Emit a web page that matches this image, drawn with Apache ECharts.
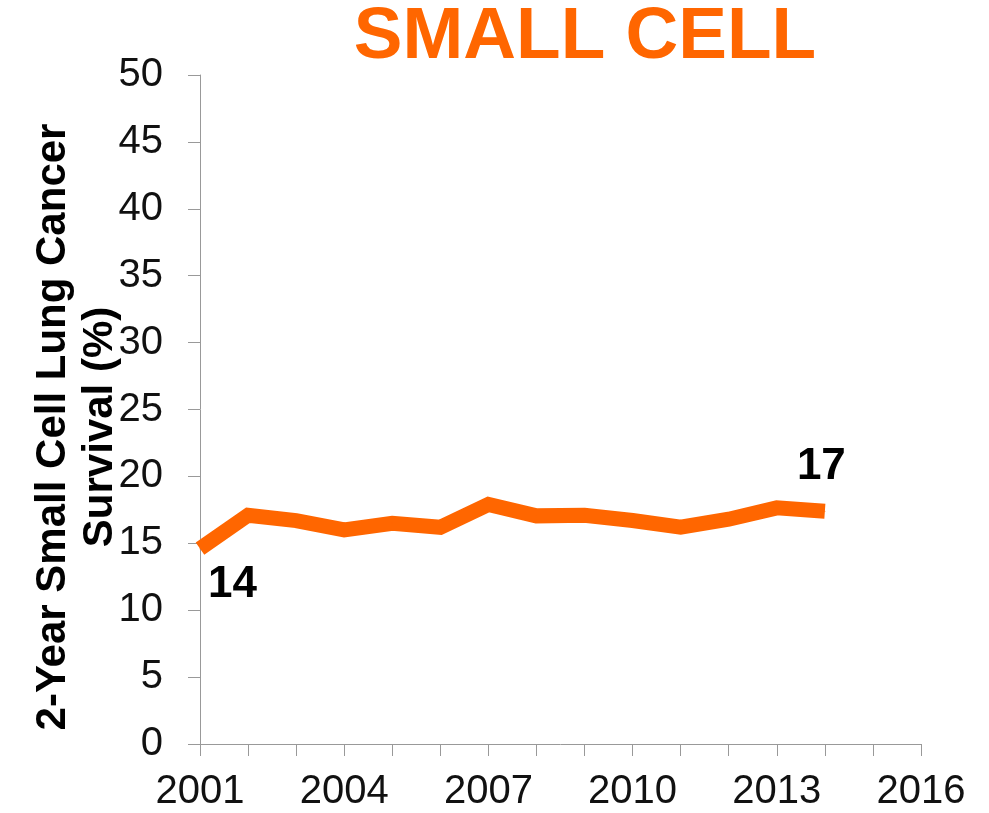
<!DOCTYPE html>
<html>
<head>
<meta charset="utf-8">
<script src="https://cdn.jsdelivr.net/npm/echarts@6/dist/echarts.min.js"></script>
<style>
  html, body { margin: 0; padding: 0; background: #fff; }
  #chart { width: 989px; height: 813px; }
</style>
</head>
<body>
<div id="chart"></div>
<script>
// ---- data ----
const years = ['2001','2002','2003','2004','2005','2006','2007','2008','2009','2010','2011','2012','2013','2014','2015','2016'];
const survival = [14.6, 17.1, 16.7, 16.0, 16.5, 16.2, 17.9, 17.05, 17.1, 16.7, 16.2, 16.8, 17.65, 17.4];
const yTicks = [0, 5, 10, 15, 20, 25, 30, 35, 40, 45, 50];
const pointLabels = [ { index: 0, text: '14' }, { index: 13, text: '17' } ];
const chartTitle = 'SMALL CELL';
const yTitle = ['2-Year Small Cell Lung Cancer', 'Survival (%)'];

const FONT = '"Liberation Sans", Arial, Helvetica, sans-serif';
const ORANGE = '#FF6600';
const AXIS = '#999999';

const labelOffsets = { 0: [33, 37], 13: [-3, -44] };

const seriesData = survival.map((v, i) => {
  const pl = pointLabels.find(p => p.index === i);
  if (!pl) return v;
  return {
    value: v,
    label: {
      show: true,
      formatter: pl.text,
      position: labelOffsets[i],
      align: 'center',
      verticalAlign: 'middle',
      fontFamily: FONT,
      fontWeight: 'bold',
      fontSize: 44,
      color: '#000'
    }
  };
});

const chart = echarts.init(document.getElementById('chart'), null, { renderer: 'canvas' });
chart.setOption({
  animation: false,
  backgroundColor: '#fff',
  grid: { left: 200, right: 68, top: 75, bottom: 69, containLabel: false },
  xAxis: {
    type: 'category',
    data: years,
    boundaryGap: false,
    axisLine: { lineStyle: { color: AXIS, width: 1 } },
    axisTick: { show: true, interval: 0, length: 12, lineStyle: { color: AXIS } },
    axisLabel: { interval: 2, margin: 28, fontFamily: FONT, fontSize: 40, color: '#111' },
    splitLine: { show: false }
  },
  yAxis: {
    type: 'value',
    min: yTicks[0],
    max: yTicks[yTicks.length - 1],
    interval: yTicks[1] - yTicks[0],
    axisLine: { show: true, lineStyle: { color: AXIS, width: 1 } },
    axisTick: { show: true, length: 12, lineStyle: { color: AXIS } },
    axisLabel: { margin: 37, fontFamily: FONT, fontSize: 40, color: '#111' },
    splitLine: { show: false }
  },
  graphic: [
    {
      type: 'text',
      x: 585, y: 38,
      style: {
        text: chartTitle,
        font: 'bold 73px ' + FONT,
        fill: ORANGE,
        textAlign: 'center',
        textVerticalAlign: 'middle'
      }
    },
    {
      type: 'text',
      x: 77, y: 427,
      rotation: Math.PI / 2,
      style: {
        text: yTitle.join('\n'),
        font: 'bold 42px ' + FONT,
        lineHeight: 47,
        fill: '#000',
        textAlign: 'center',
        textVerticalAlign: 'middle'
      }
    }
  ],
  series: [{
    type: 'line',
    data: seriesData,
    symbol: 'circle',
    symbolSize: 1,
    showSymbol: true,
    itemStyle: { color: ORANGE },
    lineStyle: { color: ORANGE, width: 15, join: 'miter' },
    label: { show: false },
    z: 3
  }]
});
</script>
</body>
</html>
